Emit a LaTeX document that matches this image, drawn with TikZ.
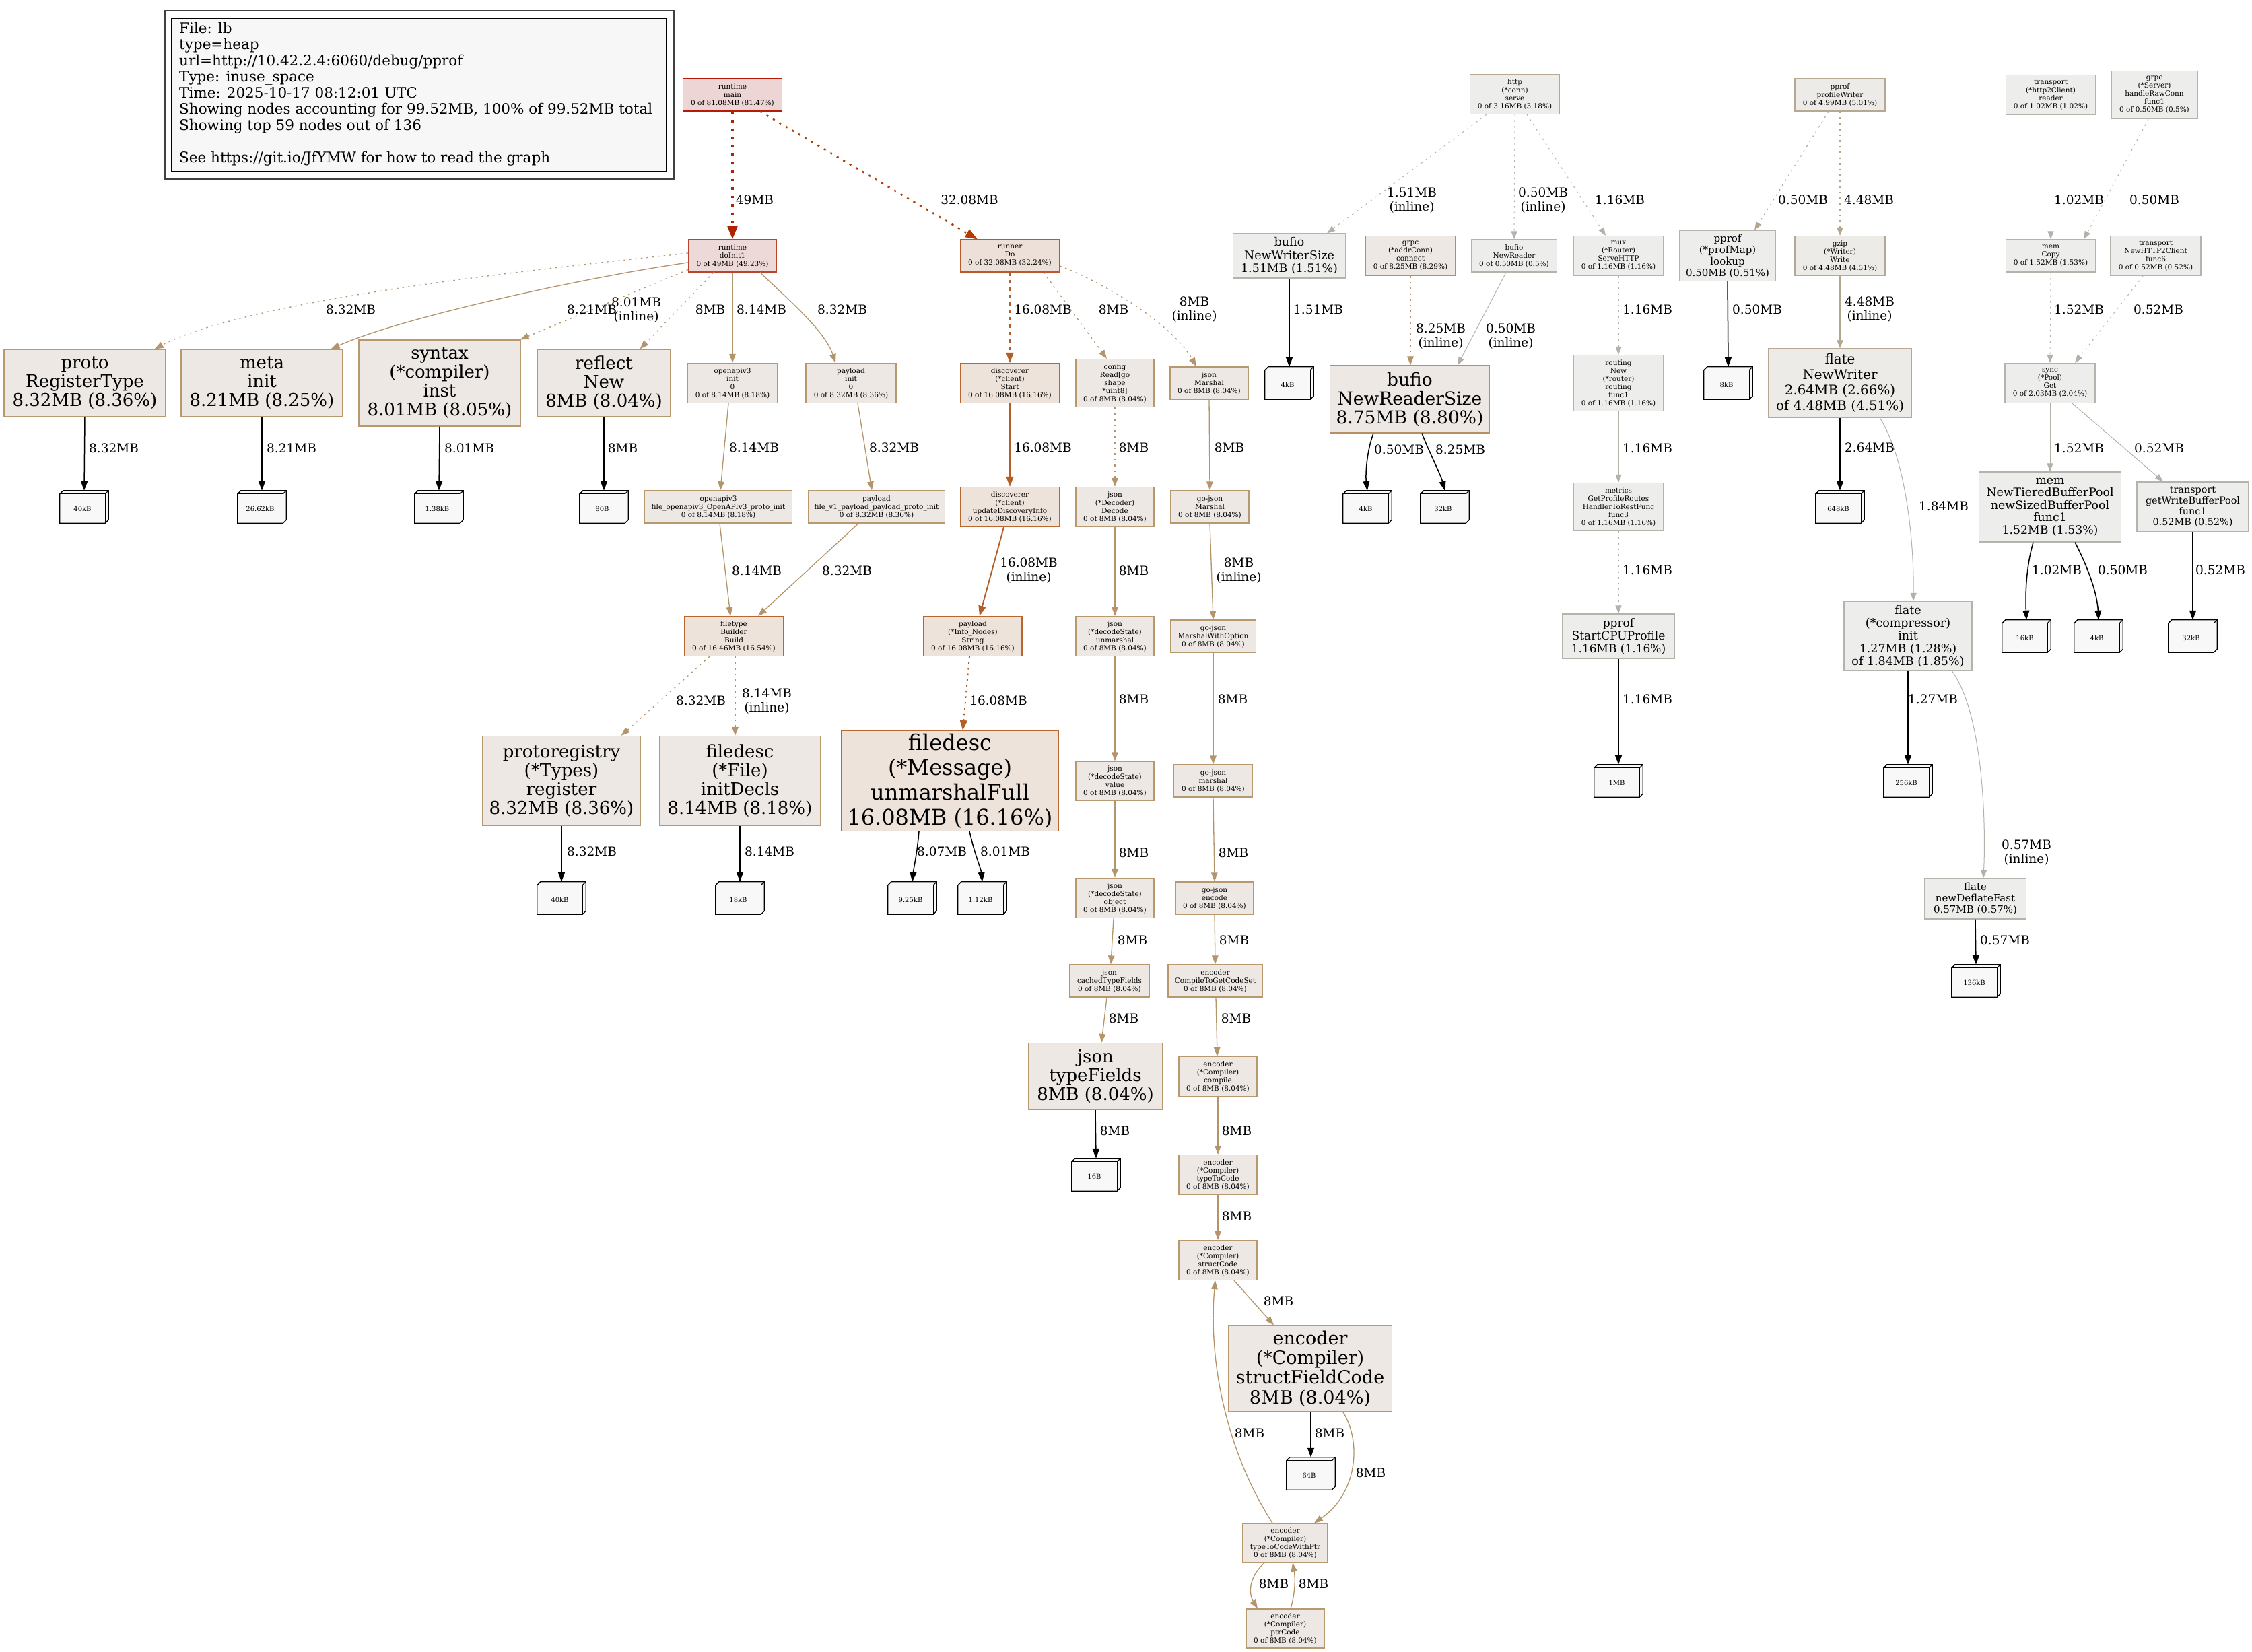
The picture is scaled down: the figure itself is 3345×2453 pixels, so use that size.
\documentclass[tikz,border=0pt]{standalone}
\usepackage{fontspec}
\setmainfont{DejaVu Serif}
\usetikzlibrary{arrows.meta,calc}
\definecolor{tanF}{HTML}{EDE8E4}
\definecolor{tanD}{HTML}{B8986F}
\definecolor{orgF}{HTML}{EDE3DB}
\definecolor{orgD}{HTML}{B8672F}
\definecolor{gryF}{HTML}{EDEDEC}
\definecolor{gryD}{HTML}{B6B3AD}
\definecolor{tgF}{HTML}{EDEBE8}
\definecolor{tgD}{HTML}{B6A891}
\definecolor{mainF}{HTML}{EDD5D5}
\definecolor{mainD}{HTML}{B81A0A}
\definecolor{diF}{HTML}{EDDAD8}
\definecolor{diD}{HTML}{B8452D}
\definecolor{rnF}{HTML}{EDE0D8}
\definecolor{rnD}{HTML}{B85A2E}
\definecolor{gcD}{HTML}{B98E63}
\definecolor{tanE}{HTML}{B3946B}
\definecolor{orgE}{HTML}{B35E26}
\definecolor{gryE}{HTML}{B4B1AA}
\definecolor{tgE}{HTML}{B3A68F}
\definecolor{redE}{HTML}{B22200}
\definecolor{redtwoE}{HTML}{B23C00}
\definecolor{leafF}{HTML}{F8F8F8}
\definecolor{legF}{HTML}{F7F7F7}
\tikzset{
  nd/.style={draw, rectangle, align=center, inner sep=0pt, line width=1.2pt},
  wh/.style 2 args={minimum width=#1, minimum height=#2},
  ctan/.style={fill=tanF, draw=tanD},
  corg/.style={fill=orgF, draw=orgD},
  cgry/.style={fill=gryF, draw=gryD},
  ctg/.style={fill=tgF, draw=tgD},
  fs/.style={font=\fontsize{10.5}{12}\selectfont},
  fl/.style={font=\fontsize{26}{28}\selectfont},
  lbl/.style={font=\fontsize{18.5}{21}\selectfont, align=center, inner sep=0pt},
  e8/.style={line width=1.3pt, -{Triangle[length=13pt,width=9.5pt]}},
  e16/.style={line width=1.9pt, -{Triangle[length=15pt,width=11pt]}},
  eg/.style={line width=1pt, draw=gryE, -{Triangle[length=12pt,width=9pt]}},
  etg/.style={line width=1.1pt, draw=tgE, -{Triangle[length=12pt,width=9pt]}},
  ek/.style={line width=1.5pt, draw=black, -{Triangle[length=14pt,width=10pt]}},
  dt/.style={dash pattern=on 2.5pt off 6pt},
  etan/.style={draw=tanE},
  eorg/.style={draw=orgE},
  leafo/.style={minimum width=72, minimum height=48, inner sep=0pt, draw=none},
  leafl/.style={line width=1.3pt, draw=black, line join=miter},
  leaft/.style={font=\fontsize{10}{12}\selectfont, inner sep=0pt},
}
\newcommand\leafbox[3]{%
  \node[leafo] (#1) at (#2) {};
  \filldraw[leafl, fill=leafF] (#1.south west) -- ($(#1.north west)+(0,5)$) -- ($(#1.north west)+(5,0)$) -- (#1.north east) -- ($(#1.south east)+(0,-5)$) -- ($(#1.south east)+(-5,0)$) -- cycle;
  \draw[leafl] ($(#1.north west)+(0,5)$) -- ($(#1.north east)+(-5,5)$) -- ($(#1.south east)+(-5,0)$);
  \draw[leafl] ($(#1.north east)+(-5,5)$) -- (#1.north east);
  \node[leaft] (#1t) at ($(#1.center)+(-2.5,2.5)$) {#3};
}
\begin{document}
\begin{tikzpicture}[x=1pt,y=-1pt]
\fill[white] (0,0) rectangle (3345,2453);
\useasboundingbox (0,0) rectangle (3345,2453);

% legend
\node[draw=black!75, line width=1.3pt, fill=white, minimum width=756, minimum height=250, inner sep=0pt] (legO) at (623,141) {};
\node[draw=black, line width=1.3pt, fill=legF, minimum width=735, minimum height=228, inner sep=0pt] (legI) at (622.5,141) {};
\node[anchor=west, align=left, inner sep=0pt, font=\fontsize{21.5}{24}\selectfont] (legT) at (266,139.5) {File: lb\\type=heap\\url=http://10.42.2.4:6060/debug/pprof\\Type: inuse\_space\\Time: 2025-10-17 08:12:01 UTC\\Showing nodes accounting for 99.52MB, 100\% of 99.52MB total\\Showing top 59 nodes out of 136\\[24pt]See https://git.io/JfYMW for how to read the graph};

% rank 141
\node[nd, fs, wh={147}{48}, fill=mainF, draw=mainD] (main) at (1088,141) {runtime\\main\\0 of 81.08MB (81.47\%)};
\node[nd, fs, wh={133}{59}, fill=gryF, draw=tgD] (http) at (2250,140) {http\\(*conn)\\serve\\0 of 3.16MB (3.18\%)};
\node[nd, fs, wh={134}{48}, ctg] (pw) at (2733,141) {pprof\\profileWriter\\0 of 4.99MB (5.01\%)};
\node[nd, fs, wh={133}{59}, cgry] (h2r) at (3046,141) {transport\\(*http2Client)\\reader\\0 of 1.02MB (1.02\%)};
\node[nd, fs, wh={128}{71}, cgry] (hrc) at (3200,141) {grpc\\(*Server)\\handleRawConn\\func1\\0 of 0.50MB (0.5\%)};

% rank 380
\node[nd, fs, wh={131}{48}, fill=diF, draw=diD] (doinit) at (1088,380) {runtime\\doInit1\\0 of 49MB (49.23\%)};
\node[nd, fs, wh={147}{48}, fill=rnF, draw=rnD] (runner) at (1500,380) {runner\\Do\\0 of 32.08MB (32.24\%)};
\node[nd, wh={167}{66}, cgry, font=\fontsize{17.4}{19.5}\selectfont] (nws) at (1915,380) {bufio\\NewWriterSize\\1.51MB (1.51\%)};
\node[nd, fs, wh={134}{59}, fill=tanF, draw=gcD] (gconn) at (2095,380) {grpc\\(*addrConn)\\connect\\0 of 8.25MB (8.29\%)};
\node[nd, fs, wh={127}{48}, cgry] (nr) at (2249,380) {bufio\\NewReader\\0 of 0.50MB (0.5\%)};
\node[nd, fs, wh={133}{59}, cgry] (mux) at (2404,380) {mux\\(*Router)\\ServeHTTP\\0 of 1.16MB (1.16\%)};
\node[nd, wh={143}{75}, cgry, font=\fontsize{15}{17}\selectfont] (lookup) at (2566,380) {pprof\\(*profMap)\\lookup\\0.50MB (0.51\%)};
\node[nd, fs, wh={134}{59}, ctg] (gzip) at (2733,380) {gzip\\(*Writer)\\Write\\0 of 4.48MB (4.51\%)};
\node[nd, fs, wh={133}{48}, cgry] (memcopy) at (3046,380) {mem\\Copy\\0 of 1.52MB (1.53\%)};
\node[nd, fs, wh={134}{59}, cgry] (nh2c) at (3202,380) {transport\\NewHTTP2Client\\func6\\0 of 0.52MB (0.52\%)};

% rank 569
\node[nd, fl, wh={240}{100}, ctan] (proto) at (126,569) {proto\\RegisterType\\8.32MB (8.36\%)};
\node[nd, fl, wh={240}{100}, ctan] (meta) at (389,569) {meta\\init\\8.21MB (8.25\%)};
\node[nd, fl, wh={240}{128}, ctan] (syntax) at (653,569) {syntax\\(*compiler)\\inst\\8.01MB (8.05\%)};
\node[nd, fl, wh={198}{100}, ctan] (reflect) at (897,569) {reflect\\New\\8MB (8.04\%)};
\node[nd, fs, wh={133}{59}, ctan] (oinit) at (1088,569) {openapiv3\\init\\0\\0 of 8.14MB (8.18\%)};
\node[nd, fs, wh={134}{59}, ctan] (pinit) at (1264,569) {payload\\init\\0\\0 of 8.32MB (8.36\%)};
\node[nd, fs, wh={147}{59}, corg] (start) at (1500,569) {discoverer\\(*client)\\Start\\0 of 16.08MB (16.16\%)};
\node[nd, fs, wh={116}{71}, ctan] (config) at (1656,569) {config\\Read[go\\shape\\{}*uint8]\\0 of 8MB (8.04\%)};
\node[nd, fs, wh={116}{48}, ctan] (jm) at (1796,569) {json\\Marshal\\0 of 8MB (8.04\%)};
\node[nd, wh={237}{100}, fill=tanF, draw=gcD, font=\fontsize{26.5}{28}\selectfont] (nrs) at (2094,593) {bufio\\NewReaderSize\\8.75MB (8.80\%)};
\node[nd, fs, wh={134}{83}, cgry] (routing) at (2404,569) {routing\\New\\(*router)\\routing\\func1\\0 of 1.16MB (1.16\%)};
\node[nd, wh={213}{102}, ctg, font=\fontsize{19.9}{22.7}\selectfont] (fnw) at (2733,569) {flate\\NewWriter\\2.64MB (2.66\%)\\of 4.48MB (4.51\%)};
\node[nd, fs, wh={134}{59}, cgry] (sync) at (3045,569) {sync\\(*Pool)\\Get\\0 of 2.03MB (2.04\%)};

% rank 753
\node[nd, fs, wh={219}{48}, ctan] (fopen) at (1067,753) {openapiv3\\file\_openapiv3\_OpenAPIv3\_proto\_init\\0 of 8.14MB (8.18\%)};
\node[nd, fs, wh={203}{48}, ctan] (fpay) at (1302,753) {payload\\file\_v1\_payload\_payload\_proto\_init\\0 of 8.32MB (8.36\%)};
\node[nd, fs, wh={147}{59}, corg] (update) at (1500,753) {discoverer\\(*client)\\updateDiscoveryInfo\\0 of 16.08MB (16.16\%)};
\node[nd, fs, wh={116}{59}, ctan] (decode) at (1656,753) {json\\(*Decoder)\\Decode\\0 of 8MB (8.04\%)};
\node[nd, fs, wh={116}{48}, ctan] (gjm) at (1797,753) {go-json\\Marshal\\0 of 8MB (8.04\%)};
\node[nd, fs, wh={134}{71}, cgry] (metrics) at (2404,753) {metrics\\GetProfileRoutes\\HandlerToRestFunc\\func3\\0 of 1.16MB (1.16\%)};
\node[nd, wh={211}{104}, cgry, font=\fontsize{17.3}{18.5}\selectfont] (tiered) at (3045,753) {mem\\NewTieredBufferPool\\newSizedBufferPool\\func1\\1.52MB (1.53\%)};
\node[nd, wh={166}{74}, cgry, font=\fontsize{14.4}{15.9}\selectfont] (gwbp) at (3257,753) {transport\\getWriteBufferPool\\func1\\0.52MB (0.52\%)};

% rank 945
\node[nd, fs, wh={147}{59}, corg] (build) at (1090,945) {filetype\\Builder\\Build\\0 of 16.46MB (16.54\%)};
\node[nd, fs, wh={146}{59}, corg] (string) at (1445,945) {payload\\(*Info\_Nodes)\\String\\0 of 16.08MB (16.16\%)};
\node[nd, fs, wh={116}{59}, ctan] (unmarshal) at (1656,945) {json\\(*decodeState)\\unmarshal\\0 of 8MB (8.04\%)};
\node[nd, fs, wh={127}{48}, ctan] (mwo) at (1802,945) {go-json\\MarshalWithOption\\0 of 8MB (8.04\%)};
\node[nd, wh={166}{66}, cgry, font=\fontsize{17}{19}\selectfont] (cpu) at (2404,945) {pprof\\StartCPUProfile\\1.16MB (1.16\%)};
\node[nd, wh={190}{103}, cgry, font=\fontsize{17.5}{19}\selectfont] (finit) at (2834,945) {flate\\(*compressor)\\init\\1.27MB (1.28\%)\\of 1.84MB (1.85\%)};

% rank 1160
\node[nd, fl, wh={234}{133}, ctan] (preg) at (834,1160) {protoregistry\\(*Types)\\register\\8.32MB (8.36\%)};
\node[nd, fl, wh={239}{133}, ctan] (idecl) at (1099,1160) {filedesc\\(*File)\\initDecls\\8.14MB (8.18\%)};
\node[nd, wh={323}{149}, corg, font=\fontsize{32}{37}\selectfont] (umf) at (1411,1160) {filedesc\\(*Message)\\unmarshalFull\\16.08MB (16.16\%)};
\node[nd, fs, wh={116}{58}, ctan] (value) at (1656,1160) {json\\(*decodeState)\\value\\0 of 8MB (8.04\%)};
\node[nd, fs, wh={117}{48}, ctan] (gjmarshal) at (1802,1160) {go-json\\marshal\\0 of 8MB (8.04\%)};

% rank 1334
\node[nd, fs, wh={116}{59}, ctan] (object) at (1656,1334) {json\\(*decodeState)\\object\\0 of 8MB (8.04\%)};
\node[nd, fs, wh={116}{48}, ctan] (encode) at (1804,1334) {go-json\\encode\\0 of 8MB (8.04\%)};
\node[nd, wh={151}{60}, cgry, font=\fontsize{15}{17}\selectfont] (ndf) at (2934,1335) {flate\\newDeflateFast\\0.57MB (0.57\%)};

% rank 1457
\node[nd, fs, wh={118}{48}, ctan] (ctf) at (1648,1457) {json\\cachedTypeFields\\0 of 8MB (8.04\%)};
\node[nd, fs, wh={140}{48}, ctan] (ctgcs) at (1805,1457) {encoder\\CompileToGetCodeSet\\0 of 8MB (8.04\%)};

% rank 1599 and below
\node[nd, fl, wh={199}{99}, ctan] (tf) at (1627,1599) {json\\typeFields\\8MB (8.04\%)};
\node[nd, fs, wh={116}{59}, ctan] (compile) at (1809,1599) {encoder\\(*Compiler)\\compile\\0 of 8MB (8.04\%)};
\node[nd, fs, wh={116}{59}, ctan] (ttc) at (1809,1745) {encoder\\(*Compiler)\\typeToCode\\0 of 8MB (8.04\%)};
\node[nd, fs, wh={116}{59}, ctan] (sc) at (1809,1872) {encoder\\(*Compiler)\\structCode\\0 of 8MB (8.04\%)};
\node[nd, wh={243}{128}, ctan, font=\fontsize{27}{29.4}\selectfont] (sfc) at (1946,2033) {encoder\\(*Compiler)\\structFieldCode\\8MB (8.04\%)};
\node[nd, fs, wh={126}{58}, ctan] (ttcwp) at (1909,2292) {encoder\\(*Compiler)\\typeToCodeWithPtr\\0 of 8MB (8.04\%)};
\node[nd, fs, wh={116}{58}, ctan] (ptr) at (1909,2419) {encoder\\(*Compiler)\\ptrCode\\0 of 8MB (8.04\%)};

% leaves
\leafbox{lA}{125,753}{40kB}
\leafbox{lB}{389,753}{26.62kB}
\leafbox{lC}{652,753}{1.38kB}
\leafbox{lD}{897,753}{80B}
\leafbox{lE}{834,1334}{40kB}
\leafbox{lF}{1099,1334}{18kB}
\leafbox{lG}{1355,1334}{9.25kB}
\leafbox{lH}{1459,1334}{1.12kB}
\leafbox{lI}{1628,1745}{16B}
\leafbox{lJ}{1947,2189}{64B}
\leafbox{lK}{1915,569}{4kB}
\leafbox{lL}{2031,753}{4kB}
\leafbox{lM}{2146,753}{32kB}
\leafbox{lN}{2567,569}{8kB}
\leafbox{lO}{2733,753}{648kB}
\leafbox{lP}{2404,1160}{1MB}
\leafbox{lQ}{2834,1160}{256kB}
\leafbox{lR}{2935,1457}{136kB}
\leafbox{lS}{3010,945}{16kB}
\leafbox{lT}{3117,945}{4kB}
\leafbox{lU}{3257,945}{32kB}

% edges: top
\draw[draw=redE, line width=3.5pt, dash pattern=on 3.5pt off 9pt, -{Triangle[length=20pt,width=15pt]}] (main.south) -- (doinit.north);
\draw[draw=redtwoE, line width=2.6pt, dash pattern=on 3pt off 8pt, -{Triangle[length=18pt,width=13pt]}] ($(main.south east)+(-33,0)$) -- ($(runner.north west)+(26,0)$);
% doInit1 fan
\draw[e8, etan, dt] ($(doinit.west)+(0,-4)$) .. controls (850,395) and (380,440) .. ($(proto.north east)+(-17,0)$);
\draw[e8, etan] ($(doinit.west)+(0,10)$) .. controls (880,410) and (600,470) .. ($(meta.north east)+(-18,0)$);
\draw[e8, etan, dt] ($(doinit.south west)+(0,-4)$) -- ($(syntax.north east)+(-1,0)$);
\draw[e8, etan, dt] ($(doinit.south)+(-28,0)$) -- ($(reflect.north east)+(-46,0)$);
\draw[e8, etan] (doinit.south) -- (oinit.north);
\draw[e8, etan] ($(doinit.south)+(41,0)$) .. controls (1165,440) and (1225,490) .. ($(pinit.north)+(-23,0)$);
% runner fan
\draw[e16, eorg, dash pattern=on 5pt off 6pt] (runner.south) -- (start.north);
\draw[e8, etan, dt] ($(runner.south)+(50,0)$) -- ($(config.north)+(-12,0)$);
\draw[e8, etan, dt] ($(runner.east)+(0,15)$) .. controls (1640,420) and (1740,480) .. ($(jm.north)+(-19,0)$);
% middle columns
\draw[e8, etan] ($(oinit.south)+(-6,0)$) -- ($(fopen.north)+(3,0)$);
\draw[e8, etan] ($(pinit.south)+(10,0)$) -- ($(fpay.north)+(-7,0)$);
\draw[e16, eorg] (start.south) -- (update.north);
\draw[e8, etan, dt] (config.south) -- (decode.north);
\draw[e8, etan] (jm.south) -- (gjm.north);
\draw[e8, etan] ($(fopen.south)+(2,0)$) -- ($(build.north)+(-5,0)$);
\draw[e8, etan] ($(fpay.south)+(-27,0)$) -- ($(build.north)+(36,0)$);
\draw[e16, eorg] ($(update.south)+(-9,0)$) -- ($(string.north)+(10,0)$);
\draw[e8, etan] (decode.south) -- (unmarshal.north);
\draw[e8, etan] (gjm.south) -- (mwo.north);
\draw[e8, etan, dt] ($(build.south)+(-36,0)$) -- ($(preg.north east)+(-29,0)$);
\draw[e8, etan, dt] ($(build.south)+(2,0)$) -- ($(idecl.north)+(-7,0)$);
\draw[e16, eorg, dt] ($(string.south)+(-5,0)$) -- ($(umf.north)+(19,0)$);
\draw[e8, etan] (unmarshal.south) -- (value.north);
\draw[e8, etan] (mwo.south) -- (gjmarshal.north);
\draw[e8, etan] (value.south) -- (object.north);
\draw[e8, etan] (gjmarshal.south) -- (encode.north);
\draw[e8, etan] ($(object.south)+(-2,0)$) -- ($(ctf.north)+(2,0)$);
\draw[e8, etan] (encode.south) -- (ctgcs.north);
\draw[e8, etan] ($(ctf.south)+(-4,0)$) -- ($(tf.north)+(9,0)$);
\draw[e8, etan] ($(ctgcs.south)+(1,0)$) -- ($(compile.north)+(-1,0)$);
\draw[ek] (tf.south) -- (lI.north);
\draw[e8, etan] (compile.south) -- (ttc.north);
\draw[e8, etan] (ttc.south) -- (sc.north);
\draw[e8, etan] ($(sc.south)+(24,0)$) -- ($(sfc.north)+(-54,0)$);
\draw[ek] ($(sfc.south)+(1,0)$) -- (lJ.north);
\draw[e8, etan] ($(sfc.south)+(49,0)$) .. controls (2024,2145) and (2014,2220) .. ($(ttcwp.north)+(43,0)$);
\draw[e8, etan] ($(ttcwp.north)+(-19,0)$) .. controls (1818,2150) and (1795,2015) .. ($(sc.south)+(-4,0)$);
\draw[e8, etan] ($(ttcwp.south)+(-31,0)$) .. controls (1852,2345) and (1856,2370) .. ($(ptr.north)+(-41,0)$);
\draw[e8, etan] ($(ptr.north)+(8,0)$) .. controls (1924,2366) and (1924,2344) .. ($(ttcwp.south)+(11,0)$);
% left leaves
\draw[ek] (proto.south) -- (lA.north);
\draw[ek] (meta.south) -- (lB.north);
\draw[ek] (syntax.south) -- (lC.north);
\draw[ek] (reflect.south) -- (lD.north);
\draw[ek] (preg.south) -- (lE.north);
\draw[ek] (idecl.south) -- (lF.north);
\draw[ek] ($(umf.south)+(-46,0)$) .. controls (1362,1270) and (1357,1290) .. (lG.north);
\draw[ek] ($(umf.south)+(29,0)$) .. controls (1448,1270) and (1457,1290) .. (lH.north);
% right side
\draw[eg, dt] ($(http.south)+(-42,0)$) -- ($(nws.north east)+(-28,0)$);
\draw[eg, dt] (http.south) -- (nr.north);
\draw[eg, dt] ($(http.south)+(18,0)$) -- ($(mux.north)+(-19,0)$);
\draw[ek] (nws.south) -- (lK.north);
\draw[e8, etan, dt] (gconn.south) -- ($(nrs.north)+(1,0)$);
\draw[eg] ($(nr.south)+(-12,0)$) -- ($(nrs.north east)+(-48,0)$);
\draw[ek] ($(nrs.south)+(-54,0)$) .. controls (2030,670) and (2028,705) .. (lL.north);
\draw[ek] ($(nrs.south)+(18,0)$) .. controls (2122,670) and (2140,705) .. (lM.north);
\draw[eg, dt] (mux.south) -- (routing.north);
\draw[eg] (routing.south) -- (metrics.north);
\draw[eg, dt] (metrics.south) -- (cpu.north);
\draw[ek] (cpu.south) -- (lP.north);
\draw[etg, dt] ($(pw.south)+(-17,0)$) -- ($(lookup.north)+(40,0)$);
\draw[etg, dt] (pw.south) -- (gzip.north);
\draw[ek] (lookup.south) -- (lN.north);
\draw[etg] (gzip.south) -- (fnw.north);
\draw[ek] (fnw.south) -- (lO.north);
\draw[eg] ($(fnw.south east)+(-48,0)$) .. controls (2830,680) and (2843,800) .. ($(finit.north)+(8,0)$);
\draw[ek] (finit.south) -- (lQ.north);
\draw[eg] ($(finit.south east)+(-30,0)$) .. controls (2945,1060) and (2950,1220) .. ($(ndf.north)+(12,0)$);
\draw[ek] (ndf.south) -- (lR.north);
\draw[eg, dt] (h2r.south) -- (memcopy.north);
\draw[eg, dt] ($(hrc.south)+(-9,0)$) -- ($(memcopy.north east)+(-18,0)$);
\draw[eg, dt] (memcopy.south) -- (sync.north);
\draw[eg, dt] ($(nh2c.south)+(-19,0)$) -- ($(sync.north)+(37,0)$);
\draw[eg] (sync.south) -- (tiered.north);
\draw[eg] ($(sync.south)+(33,0)$) -- ($(gwbp.north)+(-44,0)$);
\draw[ek] ($(tiered.south)+(-25,0)$) .. controls (3010,840) and (3008,880) .. (lS.north);
\draw[ek] ($(tiered.south)+(37,0)$) .. controls (3100,840) and (3115,880) .. (lT.north);
\draw[ek] (gwbp.south) -- (lU.north);

% edge labels
\node[lbl] (t01) at (1121,297) {49MB};
\node[lbl] (t02) at (1440,297) {32.08MB};
\node[lbl] (t03) at (521,460) {8.32MB};
\node[lbl] (t04) at (879,460) {8.21MB};
\node[lbl] (t05) at (945,461) {8.01MB\\(inline)};
\node[lbl] (t06) at (1055,460) {8MB};
\node[lbl] (t07) at (1131,460) {8.14MB};
\node[lbl] (t08) at (1251,460) {8.32MB};
\node[lbl] (t09) at (1549,460) {16.08MB};
\node[lbl] (t10) at (1654,460) {8MB};
\node[lbl] (t11) at (1774,460) {8MB\\(inline)};
\node[lbl] (t12) at (2097,298) {1.51MB\\(inline)};
\node[lbl] (t13) at (2292,298) {0.50MB\\(inline)};
\node[lbl] (t14) at (2406,297) {1.16MB};
\node[lbl] (t15) at (2678,297) {0.50MB};
\node[lbl] (t16) at (2776,297) {4.48MB};
\node[lbl] (t17) at (3088,297) {1.02MB};
\node[lbl] (t18) at (3200,297) {0.50MB};
\node[lbl] (t19) at (1958,460) {1.51MB};
\node[lbl] (t20) at (2140,500) {8.25MB\\(inline)};
\node[lbl] (t21) at (2244,500) {0.50MB\\(inline)};
\node[lbl] (t22) at (2447,460) {1.16MB};
\node[lbl] (t23) at (2610,460) {0.50MB};
\node[lbl] (t24) at (2777,460) {4.48MB\\(inline)};
\node[lbl] (t25) at (3088,460) {1.52MB};
\node[lbl] (t26) at (3206,460) {0.52MB};
\node[lbl] (t27) at (169,666) {8.32MB};
\node[lbl] (t28) at (433,666) {8.21MB};
\node[lbl] (t29) at (697,666) {8.01MB};
\node[lbl] (t30) at (925,666) {8MB};
\node[lbl] (t31) at (1120,665) {8.14MB};
\node[lbl] (t32) at (1328,665) {8.32MB};
\node[lbl] (t33) at (1549,665) {16.08MB};
\node[lbl] (t34) at (1684,665) {8MB};
\node[lbl] (t35) at (1826,665) {8MB};
\node[lbl] (t36) at (2078,668) {0.50MB};
\node[lbl] (t37) at (2169,668) {8.25MB};
\node[lbl] (t38) at (2447,666) {1.16MB};
\node[lbl] (t39) at (2777,665) {2.64MB};
\node[lbl] (t40) at (3088,666) {1.52MB};
\node[lbl] (t41) at (3207,666) {0.52MB};
\node[lbl] (t42) at (2887,752) {1.84MB};
\node[lbl] (t43) at (1124,848) {8.14MB};
\node[lbl] (t44) at (1258,848) {8.32MB};
\node[lbl] (t45) at (1528,848) {16.08MB\\(inline)};
\node[lbl] (t46) at (1684,848) {8MB};
\node[lbl] (t47) at (1840,848) {8MB\\(inline)};
\node[lbl] (t48) at (2447,847) {1.16MB};
\node[lbl] (t49) at (3055,847) {1.02MB};
\node[lbl] (t50) at (3153,847) {0.50MB};
\node[lbl] (t51) at (3298,847) {0.52MB};
\node[lbl] (t52) at (1041,1041) {8.32MB};
\node[lbl] (t53) at (1139,1042) {8.14MB\\(inline)};
\node[lbl] (t54) at (1483,1041) {16.08MB};
\node[lbl] (t55) at (1684,1039) {8MB};
\node[lbl] (t56) at (1831,1039) {8MB};
\node[lbl] (t57) at (2447,1039) {1.16MB};
\node[lbl] (t58) at (2871,1039) {1.27MB};
\node[lbl] (t59) at (879,1265) {8.32MB};
\node[lbl] (t60) at (1143,1265) {8.14MB};
\node[lbl] (t61) at (1399,1265) {8.07MB};
\node[lbl] (t62) at (1493,1265) {8.01MB};
\node[lbl] (t63) at (1684,1267) {8MB};
\node[lbl] (t64) at (1832,1267) {8MB};
\node[lbl] (t65) at (3010,1267) {0.57MB\\(inline)};
\node[lbl] (t66) at (1682,1397) {8MB};
\node[lbl] (t67) at (1833,1397) {8MB};
\node[lbl] (t68) at (2978,1397) {0.57MB};
\node[lbl] (t69) at (1669,1513) {8MB};
\node[lbl] (t70) at (1836,1513) {8MB};
\node[lbl] (t71) at (1656,1680) {8MB};
\node[lbl] (t72) at (1837,1680) {8MB};
\node[lbl] (t73) at (1837,1807) {8MB};
\node[lbl] (t74) at (1899,1933) {8MB};
\node[lbl] (t75) at (1856,2129) {8MB};
\node[lbl] (t76) at (1975,2129) {8MB};
\node[lbl] (t77) at (2036,2188) {8MB};
\node[lbl] (t78) at (1892,2353) {8MB};
\node[lbl] (t79) at (1951,2353) {8MB};
\end{tikzpicture}
\end{document}
